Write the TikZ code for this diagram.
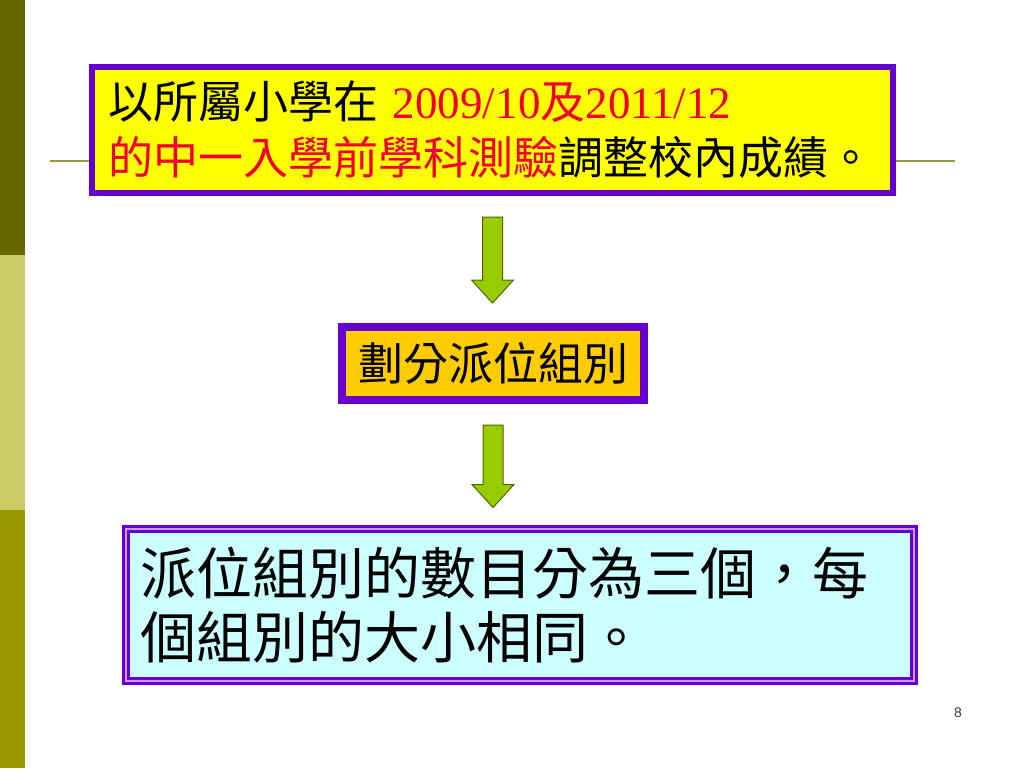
\documentclass[tikz,border=0pt]{standalone}
\usepackage{fontspec}
\setmainfont{Noto Sans CJK TC}
\newfontfamily\numfont{Liberation Serif}
\newfontfamily\pagefont{Liberation Sans}
\usetikzlibrary{calc}

\tikzset{
  stepbox/.style={draw={rgb, 255:red, 102; green, 0; blue, 204}, rectangle, inner ysep=0pt},
  greenarrow/.style={draw={rgb, 255:red, 80; green, 100; blue, 0}, fill={rgb, 255:red, 153; green, 204; blue, 0}, line width=0.75pt, line join=miter},
  bigtext/.style={font=\fontsize{33.75}{42}\selectfont},
  hugetext/.style={font=\fontsize{42}{48}\selectfont}
}
\newcommand{\redtext}[1]{\textcolor[RGB]{240,0,50}{#1}}
\newcommand{\flowarrow}[2]{%
  \draw[greenarrow] ($(#1.south)+(-10,21)$) -- ($(#1.south |- #2.north)+(-10,-43)$) -- ($(#1.south |- #2.north)+(-21,-43)$) -- ($(#1.south |- #2.north)+(0,-20)$) -- ($(#1.south |- #2.north)+(21,-43)$) -- ($(#1.south |- #2.north)+(10,-43)$) -- ($(#1.south)+(10,21)$) -- cycle ;}

\begin{document}
\begin{tikzpicture}[x=0.75pt,y=0.75pt,yscale=-1,xscale=1]
\useasboundingbox (0,0) rectangle (1024,768);

%Shape: Side bars
\fill [color={rgb, 255:red, 102; green, 102; blue, 0 }] (0,0) rectangle (25,255) ;
\fill [color={rgb, 255:red, 204; green, 204; blue, 102 }] (0,255) rectangle (25,510) ;
\fill [color={rgb, 255:red, 153; green, 153; blue, 0 }] (0,510) rectangle (25,768) ;
%Straight Lines
\draw [color={rgb, 255:red, 153; green, 153; blue, 51 }, line width=1.5pt] (50,161) -- (955,161) ;

% Text Node
\node (rule) [stepbox, bigtext, line width=4.5pt, fill={rgb, 255:red, 255; green, 255; blue, 0 }, minimum width=600.75pt, minimum height=94.5pt, inner xsep=12pt, text width=576.75pt, align=left] at (492.5,130) {以所屬小學在 \redtext{{\numfont 2009/10}及{\numfont 2011/12}}\\\redtext{的中一入學前學科測驗}調整校內成績。};
% Text Node
\node (groups) [stepbox, bigtext, line width=6pt, fill={rgb, 255:red, 255; green, 204; blue, 0 }, minimum width=226.5pt, minimum height=54.75pt] at (493,363.5) {劃分派位組別};
% Text Node
\node (result) [stepbox, hugetext, line width=2.25pt, double={rgb, 255:red, 204; green, 153; blue, 255 }, double distance=1.5pt, fill={rgb, 255:red, 204; green, 255; blue, 255 }, minimum width=591pt, minimum height=114pt, inner xsep=10.5pt, text width=570pt, align=left] at (520,605) {派位組別的數目分為三個，每\\個組別的大小相同。};

%Block Arrows
\flowarrow{rule}{groups}
\flowarrow{groups}{result}

% Text Node
\node (pagenum) [font=\pagefont\fontsize{10.5}{12}\selectfont, color={rgb, 255:red, 60; green, 60; blue, 60 }] at (958,713) {8};

\end{tikzpicture}
\end{document}
